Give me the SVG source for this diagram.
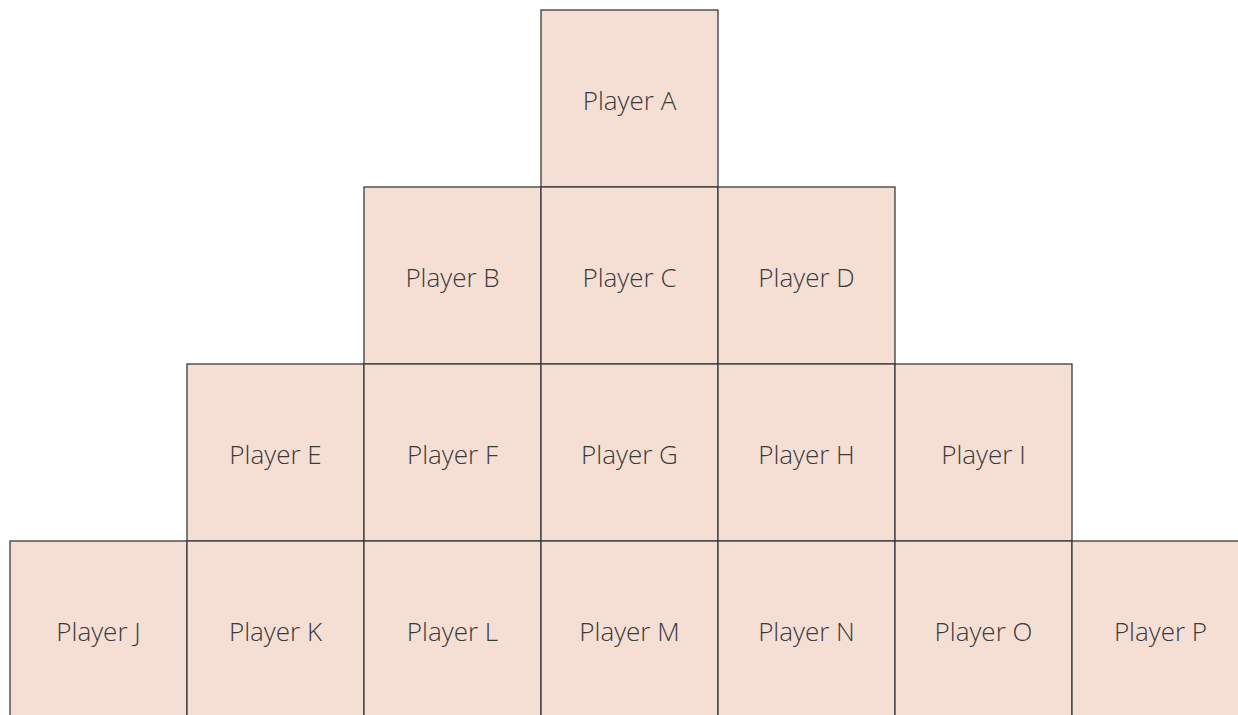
<svg xmlns="http://www.w3.org/2000/svg" width="1238" height="715" viewBox="0 0 1238 715">
<style>
.b{fill:#f5dfd5;stroke:#3a3a3a;stroke-width:1.3}
.t{font-family:"Open Sans","Noto Sans",sans-serif;font-weight:300;font-size:26px;fill:#3a3a3a;text-anchor:middle}
</style>
<rect width="1238" height="715" fill="#ffffff"/>
<g id="nodeA"><rect class="b" x="541" y="10" width="177" height="177"/><text class="t" x="629.5" y="110">Player A</text></g>
<g id="nodeB"><rect class="b" x="364" y="187" width="177" height="177"/><text class="t" x="452.5" y="287">Player B</text></g>
<g id="nodeC"><rect class="b" x="541" y="187" width="177" height="177"/><text class="t" x="629.5" y="287">Player C</text></g>
<g id="nodeD"><rect class="b" x="718" y="187" width="177" height="177"/><text class="t" x="806.5" y="287">Player D</text></g>
<g id="nodeE"><rect class="b" x="187" y="364" width="177" height="177"/><text class="t" x="275.5" y="464">Player E</text></g>
<g id="nodeF"><rect class="b" x="364" y="364" width="177" height="177"/><text class="t" x="452.5" y="464">Player F</text></g>
<g id="nodeG"><rect class="b" x="541" y="364" width="177" height="177"/><text class="t" x="629.5" y="464">Player G</text></g>
<g id="nodeH"><rect class="b" x="718" y="364" width="177" height="177"/><text class="t" x="806.5" y="464">Player H</text></g>
<g id="nodeI"><rect class="b" x="895" y="364" width="177" height="177"/><text class="t" x="983.5" y="464">Player I</text></g>
<g id="nodeJ"><rect class="b" x="10" y="541" width="177" height="177"/><text class="t" x="98.5" y="641">Player J</text></g>
<g id="nodeK"><rect class="b" x="187" y="541" width="177" height="177"/><text class="t" x="275.5" y="641">Player K</text></g>
<g id="nodeL"><rect class="b" x="364" y="541" width="177" height="177"/><text class="t" x="452.5" y="641">Player L</text></g>
<g id="nodeM"><rect class="b" x="541" y="541" width="177" height="177"/><text class="t" x="629.5" y="641">Player M</text></g>
<g id="nodeN"><rect class="b" x="718" y="541" width="177" height="177"/><text class="t" x="806.5" y="641">Player N</text></g>
<g id="nodeO"><rect class="b" x="895" y="541" width="177" height="177"/><text class="t" x="983.5" y="641">Player O</text></g>
<g id="nodeP"><rect class="b" x="1072" y="541" width="177" height="177"/><text class="t" x="1160.5" y="641">Player P</text></g>
<g id="connectors"></g>
</svg>
